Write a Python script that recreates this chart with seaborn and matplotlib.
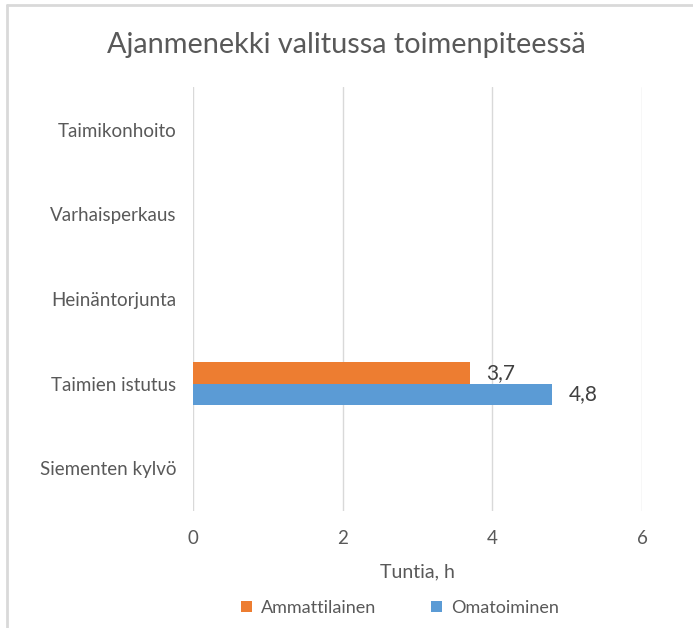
import matplotlib.pyplot as plt
import numpy as np
import pandas as pd
import seaborn as sns

categories = ['Taimikonhoito', 'Varhaisperkaus', 'Heinäntorjunta',
              'Taimien istutus', 'Siementen kylvö']
ammattilainen = [0, 0, 0, 3.7, 0]
omatoiminen = [0, 0, 0, 4.8, 0]
series = ['Ammattilainen', 'Omatoiminen']
colors = ['#ED7D31', '#5B9BD5']

df = pd.DataFrame({
    'toimenpide': categories * 2,
    'tunnit': ammattilainen + omatoiminen,
    'sarja': [series[0]] * 5 + [series[1]] * 5,
})

sns.set_theme(style='white')
plt.rcParams['font.family'] = ['Lato', 'DejaVu Sans']
txt = '#595959'

fig = plt.figure(figsize=(6.93, 6.28), dpi=100)
ax = fig.add_axes([0.2785, 0.1871, 0.6479, 0.6736])

sns.barplot(data=df, y='toimenpide', x='tunnit', hue='sarja', order=categories,
            hue_order=series, palette=colors, width=0.5, orient='h',
            saturation=1, ax=ax, legend=True, linewidth=0)

for cont in ax.containers:
    labels = [f'{b.get_width():.1f}'.replace('.', ',') if b.get_width() > 0 else ''
              for b in cont]
    ax.bar_label(cont, labels=labels, padding=12, fontsize=15, color='#404040')

ax.set_xlim(0, 6)
ax.set_xticks([0, 2, 4, 6])
ax.grid(axis='x', color='#d9d9d9', linewidth=1)
ax.set_axisbelow(True)
for s in ax.spines.values():
    s.set_visible(False)
ax.tick_params(axis='both', length=0, labelsize=13.5, labelcolor=txt)
ax.tick_params(axis='x', pad=14)
ax.tick_params(axis='y', pad=12)
ax.set_ylabel('')
ax.set_xlabel('Tuntia, h', fontsize=14, color=txt, labelpad=12)

ax.legend(loc='center', bbox_to_anchor=(400 / 693, 20 / 628),
          bbox_transform=fig.transFigure, ncol=2, frameon=False, fontsize=13,
          handlelength=0.6, handleheight=0.6, columnspacing=3.0, handletextpad=0.5,
          labelcolor=txt)

fig.text(346 / 693, 1 - 45 / 628, 'Ajanmenekki valitussa toimenpiteessä',
         ha='center', va='center', fontsize=20.8, color=txt)

# chart frame (top and left edges visible in the reference)
fig.add_artist(plt.Line2D([7 / 693, 1], [1 - 5 / 628] * 2, color='#d9d9d9', lw=2,
                          transform=fig.transFigure))
fig.add_artist(plt.Line2D([7 / 693] * 2, [0, 1 - 5 / 628], color='#d9d9d9', lw=2,
                          transform=fig.transFigure))

plt.savefig('out.png', dpi=100)
